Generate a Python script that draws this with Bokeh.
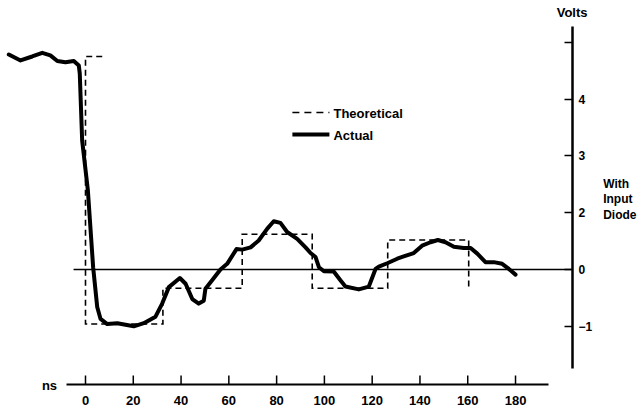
from bokeh.plotting import figure
from bokeh.models import Range1d, FixedTicker, Label
from bokeh.embed import file_html
from bokeh.resources import INLINE

# ---- data (ns, volts on the drawn scale) ----
actual_t = [-32.1, -27.2, -22.3, -18.1, -14.7, -11.8, -8.4, -4.9, -2.8, -2.4, -1.4, 1.0, 3.2, 4.9, 6.3,
            9.1, 13.3, 20.2, 24.4, 29.3, 32.1, 34.9, 39.5, 41.9, 44.7, 47.4, 49.5, 50.2, 53.0,
            56.5, 59.3, 63.2, 65.6, 69.1, 72.5, 76.1, 78.8, 81.6, 84.4, 88.6, 92.1, 94.2, 96.3,
            97.7, 99.8, 103.9, 106.7, 108.8, 114.4, 118.6, 121.4, 122.8, 126.3, 130.5, 133.2,
            137.4, 140.9, 144.4, 147.5, 150.7, 154.2, 158.3, 161.2, 164.0, 167.4, 170.9, 174.4,
            177.2, 180.0]
actual_v = [3.785, 3.68, 3.75, 3.815, 3.77, 3.67, 3.65, 3.67, 3.59, 3.45, 2.27, 1.39, 0.04, -0.66, -0.87,
            -0.96, -0.945, -1.0, -0.945, -0.83, -0.6, -0.31, -0.15, -0.25, -0.52, -0.60, -0.55, -0.34, -0.19,
            0.0, 0.1, 0.36, 0.35, 0.39, 0.51, 0.72, 0.85, 0.82, 0.66, 0.54, 0.39, 0.29, 0.22,
            0.04, -0.03, -0.035, -0.19, -0.30, -0.35, -0.30, 0.01, 0.05, 0.11, 0.19, 0.23,
            0.29, 0.42, 0.48, 0.52, 0.48, 0.40, 0.38, 0.38, 0.28, 0.13, 0.13, 0.10,
            0.01, -0.09]

theory_start = [7.0, 0.0]          # initial high segment (ns)
theory_high = 3.75
step_edges = [0.0, 32.4, 65.6, 94.9, 126.5, 160.4]
step_levels = [-0.96, -0.33, 0.62, -0.33, 0.52]
theory_end_level = -0.33

x_ticks = [0, 20, 40, 60, 80, 100, 120, 140, 160, 180]
y_ticks = [4, 3, 2, 1, 0, -1]
y_tick_labels = ["", "4", "3", "2", "0", "\u22121"]

# build theoretical path
th_x = [theory_start[0], theory_start[1]]
th_y = [theory_high, theory_high]
for i, lev in enumerate(step_levels):
    th_x += [step_edges[i], step_edges[i + 1]]
    th_y += [lev, lev]
th_x.append(step_edges[-1])
th_y.append(theory_end_level)

FONT = "Liberation Sans"

X_AXIS_Y = -2.025          # level of the time axis line
X_TICK_TOP = -1.866
X_AXIS_SPAN = (-7.95, 193.8)

p = figure(width=644, height=416, output_backend="svg", toolbar_location=None,
           x_range=Range1d(-35.58, 203.85), y_range=Range1d(-2.165, 4.366),
           y_axis_location="right", x_axis_location="below")
p.min_border_left = 0
p.min_border_right = 72
p.min_border_top = 21
p.min_border_bottom = 24
p.outline_line_color = None
p.grid.visible = False
p.background_fill_color = "white"
p.border_fill_color = "white"

p.title.text = "Volts"
p.title.align = "right"
p.title.offset = -15
p.title.vertical_align = "top"
p.title.standoff = 0
p.title.text_font = FONT
p.title.text_font_style = "bold"
p.title.text_font_size = "13px"
p.title.text_color = "black"

xa = p.xaxis[0]
xa.ticker = FixedTicker(ticks=x_ticks)
xa.axis_line_color = None
xa.major_tick_line_color = None
xa.minor_tick_line_color = None
xa.major_tick_in = 0
xa.major_tick_out = 0
xa.major_label_standoff = 3
xa.major_label_text_font = FONT
xa.major_label_text_font_style = "bold"
xa.major_label_text_font_size = "13px"
xa.major_label_text_color = "black"

ya = p.yaxis[0]
ya.ticker = FixedTicker(ticks=y_ticks)
ya.major_label_overrides = {t: l for t, l in zip(y_ticks, y_tick_labels)}
ya.bounds = (-1.743, 4.278)
ya.axis_line_width = 2.5
ya.axis_line_color = "black"
ya.major_tick_in = 8
ya.major_tick_out = 0
ya.minor_tick_line_color = None
ya.major_tick_line_width = 1.5
ya.major_label_standoff = 6
ya.major_label_text_font = FONT
ya.major_label_text_font_style = "bold"
ya.major_label_text_font_size = "12px"
ya.major_label_text_color = "black"
ya.axis_label = "With\nInput\nDiode\n"
ya.axis_label_orientation = "horizontal"
ya.axis_label_standoff = 8
ya.axis_label_text_font = FONT
ya.axis_label_text_font_style = "bold"
ya.axis_label_text_font_size = "12px"
ya.axis_label_text_line_height = 1.1
ya.axis_label_text_color = "black"
ya.axis_label_text_align = "left"

# time axis line and ticks
p.line(x=list(X_AXIS_SPAN), y=[X_AXIS_Y, X_AXIS_Y], line_color="black", line_width=2)
p.segment(x0=x_ticks, x1=x_ticks, y0=[X_AXIS_Y] * len(x_ticks), y1=[X_TICK_TOP] * len(x_ticks),
          line_color="black", line_width=1.5)

# zero line
p.line(x=[-5.0, 203.85], y=[0, 0], line_color="black", line_width=1.5)

# theoretical
p.line(x=th_x, y=th_y, line_color="black", line_width=1.6, line_dash="6 4", line_join="miter")

# actual
p.line(x=actual_t, y=actual_v, line_color="black", line_width=4, line_join="round", line_cap="round")

# legend
p.line(x=[86.6, 102.1], y=[2.764, 2.764], line_color="black", line_width=1.6, line_dash="7 5")
p.line(x=[86.6, 102.1], y=[2.377, 2.377], line_color="black", line_width=4)

def lab(x, y, text, align="left", size="13px"):
    p.add_layout(Label(x=x, y=y, text=text, text_align=align, text_baseline="middle",
                       text_font=FONT, text_font_style="bold", text_font_size=size,
                       text_color="black"))

lab(103.8, 2.738, "Theoretical")
lab(103.8, 2.359, "Actual")
lab(-15.07, -2.04, "ns", align="center")

open("out.html", "w").write(file_html(p, INLINE))
